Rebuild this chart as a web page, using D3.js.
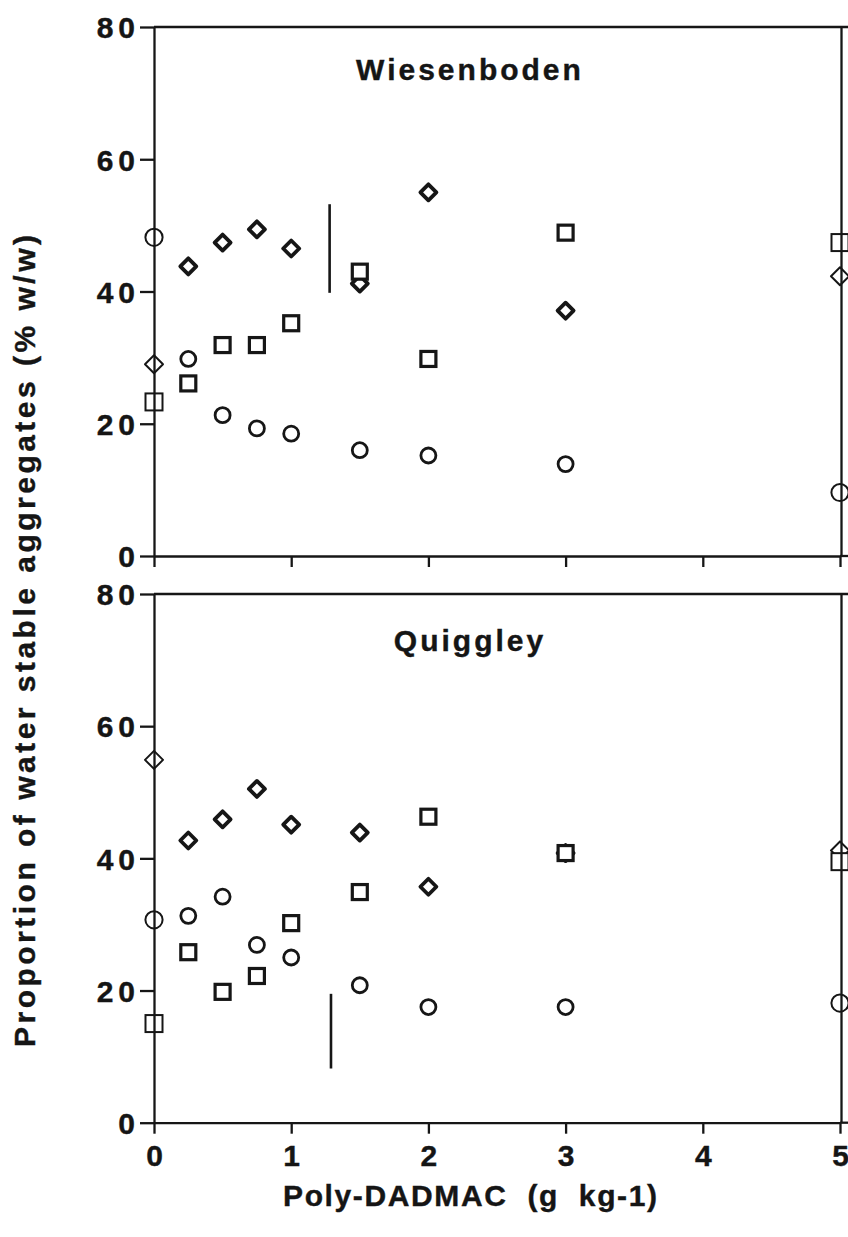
<!DOCTYPE html>
<html>
<head>
<meta charset="utf-8">
<script src="https://cdn.jsdelivr.net/npm/d3@7"></script>
<style>
  body { margin: 0; background: #fff; }
  svg { display: block; }
  text { font-family: "Liberation Sans", Arial, Helvetica, sans-serif; font-weight: bold; fill: #151515; stroke: #151515; stroke-width: 0.4px; }
</style>
</head>
<body>
<div id="plot"></div>
<script>
// Poly-DADMAC doses (g kg-1)
const doses = [0, 0.25, 0.5, 0.75, 1, 1.5, 2, 3, 5];

// Wiesenboden
const wiesCircle  = [48.2, 29.8, 21.3, 19.3, 18.5, 16.0, 15.2, 13.9, 9.6];
const wiesDiamond = [29.0, 43.8, 47.4, 49.4, 46.5, 41.2, 55.0, 37.1, 42.3];
const wiesSquare  = [23.3, 26.1, 31.9, 31.9, 35.2, 43.0, 29.8, 48.9, 47.4];
const wiesLsd = { x: 1.28, y0: 39.8, y1: 53.2 };

// Quiggley
const quigCircle  = [30.7, 31.3, 34.2, 26.9, 25.0, 20.8, 17.5, 17.5, 18.1];
const quigDiamond = [54.9, 42.7, 45.9, 50.5, 45.1, 43.9, 35.7, 40.8, 41.2];
const quigSquare  = [15.0, 25.8, 19.8, 22.2, 30.2, 34.9, 46.3, 40.8, 39.5];
const quigLsd = { x: 1.29, y0: 8.2, y1: 19.5 };

const yTicks = [0, 20, 40, 60, 80];
const xTicks = [0, 1, 2, 3, 4, 5];

const width = 848, height = 1237;
const ink = "#161616";

const svg = d3.select("#plot").append("svg")
    .attr("width", width)
    .attr("height", height);

const x = d3.scaleLinear().domain([0, 5]).range([154, 840]);

const panels = [
  { name: "Wiesenboden", top: 27, bottom: 556, circle: wiesCircle, diamond: wiesDiamond, square: wiesSquare, lsd: wiesLsd, titleY: 80, showX: false },
  { name: "Quiggley", top: 594, bottom: 1122.7, circle: quigCircle, diamond: quigDiamond, square: quigSquare, lsd: quigLsd, titleY: 651, showX: true }
];

panels.forEach(p => {
  const y = d3.scaleLinear().domain([0, 80]).range([p.bottom, p.top]);
  const g = svg.append("g");

  const onEdge = d => d.x === 0 || d.x === 5;
  const pts = key => doses.map((d, i) => ({ x: d, v: p[key][i] })).filter(d => d.v != null);

  // diamonds first, squares over them, circles on top
  g.selectAll(".dia").data(pts("diamond")).enter().append("path")
    .attr("d", d => onEdge(d) ? "M0,-9L9,0L0,9L-9,0Z" : "M0,-8L8,0L0,8L-8,0Z")
    .attr("transform", d => `translate(${x(d.x)},${y(d.v)})`)
    .attr("fill", "#fff").attr("stroke", ink)
    .attr("stroke-width", d => onEdge(d) ? 2 : 3.8)
    .attr("stroke-linejoin", "round");

  g.selectAll(".sq").data(pts("square")).enter().append("rect")
    .attr("x", d => x(d.x) - (onEdge(d) ? 8.5 : 7.5))
    .attr("y", d => y(d.v) - (onEdge(d) ? 8.5 : 7.5))
    .attr("width", d => onEdge(d) ? 17 : 15)
    .attr("height", d => onEdge(d) ? 17 : 15)
    .attr("fill", "#fff").attr("stroke", ink)
    .attr("stroke-width", d => onEdge(d) ? 2 : 3.2);

  g.selectAll(".ci").data(pts("circle")).enter().append("circle")
    .attr("cx", d => x(d.x)).attr("cy", d => y(d.v))
    .attr("r", d => onEdge(d) ? 8.6 : 7.5)
    .attr("fill", "#fff").attr("stroke", ink)
    .attr("stroke-width", d => onEdge(d) ? 2 : 2.8);

  // LSD bar
  g.append("line")
    .attr("x1", x(p.lsd.x)).attr("x2", x(p.lsd.x))
    .attr("y1", y(p.lsd.y0)).attr("y2", y(p.lsd.y1))
    .attr("stroke", ink).attr("stroke-width", 2.6);

  // frame: top and right
  g.append("line")
    .attr("x1", x(0)).attr("x2", width)
    .attr("y1", y(80)).attr("y2", y(80))
    .attr("stroke", ink).attr("stroke-width", 2.3);
  g.append("line")
    .attr("x1", x(5) + 1.5).attr("x2", x(5) + 1.5)
    .attr("y1", y(80)).attr("y2", y(0))
    .attr("stroke", ink).attr("stroke-width", 2.3);

  // y axis
  const ya = g.append("g")
    .attr("transform", `translate(${x(0)},0)`)
    .call(d3.axisLeft(y).tickValues(yTicks).tickSize(14).tickSizeOuter(0).tickPadding(0));
  ya.select(".domain").attr("stroke", ink).attr("stroke-width", 2.3);
  ya.selectAll(".tick line").attr("stroke", ink).attr("stroke-width", 2.3);
  ya.selectAll(".tick text")
    .attr("font-size", 30).attr("letter-spacing", 5)
    .attr("font-family", null).attr("fill", ink).attr("dy", "0.36em");

  // x axis
  const xa = g.append("g")
    .attr("transform", `translate(0,${p.bottom})`)
    .call(d3.axisBottom(x).tickValues(xTicks).tickSize(11).tickSizeOuter(0).tickPadding(7)
      .tickFormat(p.showX ? d3.format("d") : ""));
  xa.select(".domain").attr("stroke", ink).attr("stroke-width", 2.3);
  xa.selectAll(".tick line").attr("stroke", ink).attr("stroke-width", 2.3);
  xa.selectAll(".tick text")
    .attr("font-size", 30).attr("font-family", null).attr("fill", ink).attr("dy", "0.84em");

  // extend bottom line to right edge
  g.append("line")
    .attr("x1", x(5)).attr("x2", width)
    .attr("y1", p.bottom).attr("y2", p.bottom)
    .attr("stroke", ink).attr("stroke-width", 2.3);

  g.append("text")
    .attr("x", 470).attr("y", p.titleY)
    .attr("text-anchor", "middle")
    .attr("font-size", 30)
    .attr("letter-spacing", 3)
    .text(p.name);
});

// axis titles
svg.append("text")
  .attr("x", 470).attr("y", 1206)
  .attr("text-anchor", "middle")
  .attr("font-size", 30)
  .attr("textLength", 374).attr("lengthAdjust", "spacing")
  .style("white-space", "pre")
  .text("Poly-DADMAC  (g  kg-1)");

svg.append("text")
  .attr("transform", "translate(35,641) rotate(-90)")
  .attr("text-anchor", "middle")
  .attr("font-size", 30)
  .attr("textLength", 812).attr("lengthAdjust", "spacing")
  .style("white-space", "pre")
  .text("Proportion of water stable aggregates (% w/w)");
</script>
</body>
</html>
